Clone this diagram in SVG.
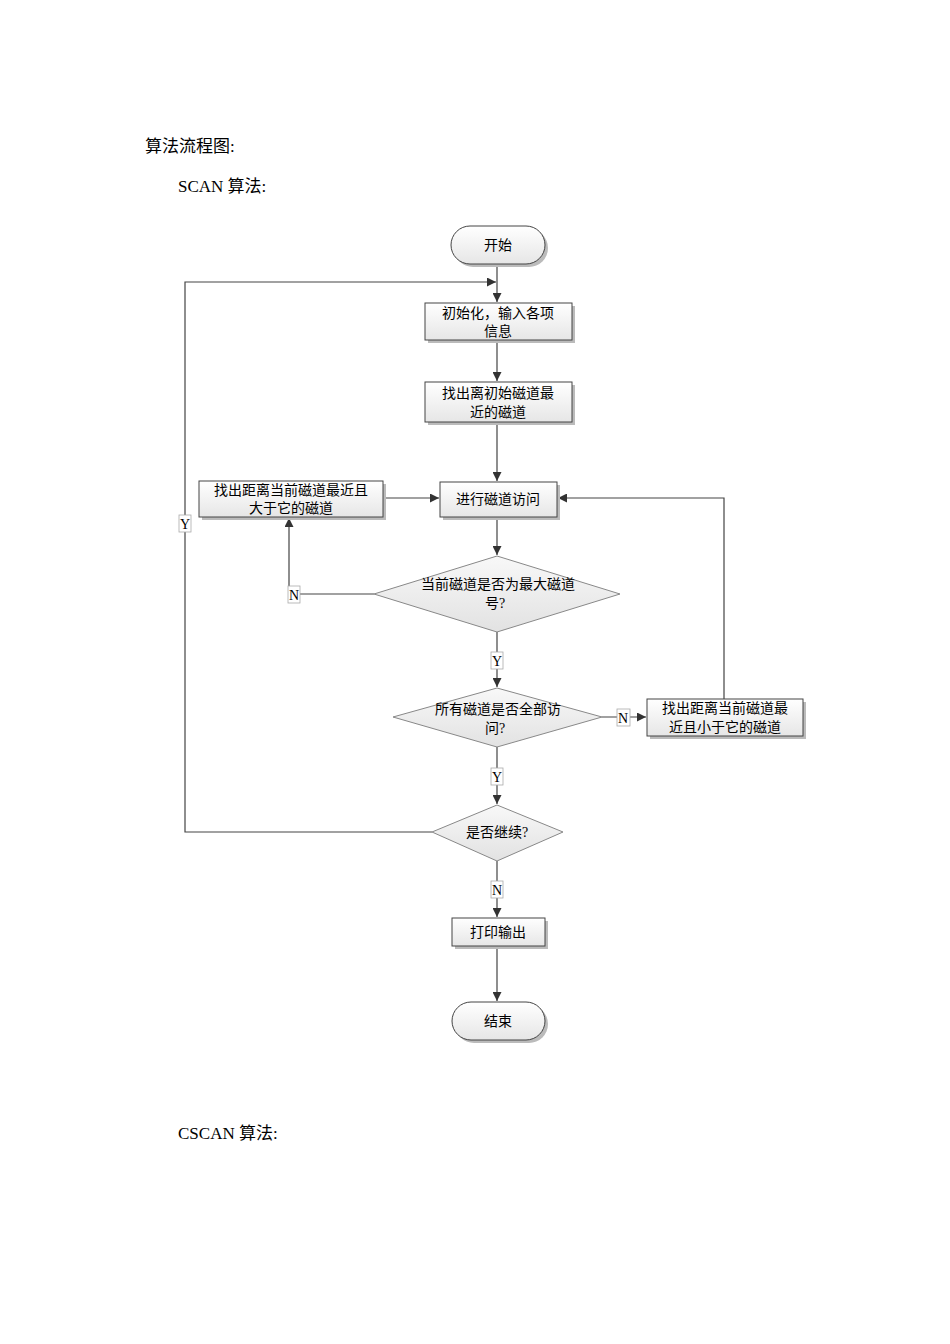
<svg xmlns="http://www.w3.org/2000/svg" width="950" height="1344" viewBox="0 0 950 1344">
<defs>
<linearGradient id="gb" x1="0" y1="0" x2="0" y2="1"><stop offset="0" stop-color="#ffffff"/><stop offset="1" stop-color="#e6e6e6"/></linearGradient>
<linearGradient id="gd" x1="0" y1="0" x2="0" y2="1"><stop offset="0" stop-color="#f8f8f8"/><stop offset="1" stop-color="#e2e2e2"/></linearGradient>
<marker id="ar" viewBox="0 0 10 10" refX="10" refY="5" markerWidth="9" markerHeight="9" markerUnits="userSpaceOnUse" orient="auto"><path d="M0,0 L10,5 L0,10 z" fill="#333"/></marker>
</defs>
<style>
text{font-family:"Liberation Serif","Noto Sans CJK SC",serif;fill:#000}
.h{font-size:17px}
.t{font-size:14px;text-anchor:middle}
.box{fill:url(#gb);stroke:#444;stroke-width:1}
.dia{fill:url(#gd);stroke:#888;stroke-width:1}
.sh{fill:#bbb}
.c{fill:none;stroke:#444;stroke-width:1.2}
.lb{fill:#fff;stroke:#aaa;stroke-width:0.8}
</style>
<rect width="950" height="1344" fill="#fff"/>
<text class="h" x="145" y="152">算法流程图:</text>
<text class="h" x="178" y="192">SCAN 算法:</text>
<text class="h" x="178" y="1139">CSCAN 算法:</text>

<g id="connectors">
<path class="c" d="M497,264 V302" marker-end="url(#ar)"/>
<path class="c" d="M497,340 V381" marker-end="url(#ar)"/>
<path class="c" d="M497,422 V481" marker-end="url(#ar)"/>
<path class="c" d="M497,517 V555" marker-end="url(#ar)"/>
<path class="c" d="M383,498 H439" marker-end="url(#ar)"/>
<path class="c" d="M374,594 H289 V518" marker-end="url(#ar)"/>
<path class="c" d="M497,632 V687" marker-end="url(#ar)"/>
<path class="c" d="M602,717 H646" marker-end="url(#ar)"/>
<path class="c" d="M724,699 V498 H558" marker-end="url(#ar)"/>
<path class="c" d="M497,747 V804" marker-end="url(#ar)"/>
<path class="c" d="M432,832 H185 V282 H496" marker-end="url(#ar)"/>
<path class="c" d="M497,861 V917" marker-end="url(#ar)"/>
<path class="c" d="M497,946 V1001" marker-end="url(#ar)"/>
<rect class="lb" x="179" y="515" width="12" height="17"/><text class="t" x="185" y="529">Y</text>
<rect class="lb" x="288" y="586" width="12" height="17"/><text class="t" x="294" y="600">N</text>
<rect class="lb" x="491" y="652" width="12" height="17"/><text class="t" x="497" y="666">Y</text>
<rect class="lb" x="491" y="768" width="12" height="17"/><text class="t" x="497" y="782">Y</text>
<rect class="lb" x="491" y="881" width="12" height="17"/><text class="t" x="497" y="895">N</text>
<rect class="lb" x="617" y="709" width="13" height="17"/><text class="t" x="623" y="723">N</text>
</g>

<g id="start"><rect class="sh" x="454" y="229" width="94" height="38" rx="19"/><rect class="box" x="451" y="226" width="94" height="38" rx="19" stroke="#999"/><text class="t" x="498" y="250">开始</text></g>
<g id="init"><rect class="sh" x="428" y="306" width="147" height="37"/><rect class="box" x="425" y="303" width="147" height="37"/><text class="t" x="498" y="318">初始化，输入各项</text><text class="t" x="498" y="336">信息</text></g>
<g id="nearest"><rect class="sh" x="428" y="385" width="147" height="40"/><rect class="box" x="425" y="382" width="147" height="40"/><text class="t" x="498" y="398">找出离初始磁道最</text><text class="t" x="498" y="417">近的磁道</text></g>
<g id="visit"><rect class="sh" x="443" y="485" width="117" height="35"/><rect class="box" x="440" y="482" width="117" height="35"/><text class="t" x="498" y="504">进行磁道访问</text></g>
<g id="bigger"><rect class="sh" x="202" y="484" width="184" height="36"/><rect class="box" x="199" y="481" width="184" height="36"/><text class="t" x="291" y="495">找出距离当前磁道最近且</text><text class="t" x="291" y="513">大于它的磁道</text></g>
<g id="d1"><polygon class="dia" points="497,556 620,594 497,632 374,594"/><text class="t" x="498" y="589">当前磁道是否为最大磁道</text><text class="t" x="495" y="608">号?</text></g>
<g id="d2"><polygon class="dia" points="497,688 602,717 497,747 393,717"/><text class="t" x="498" y="714">所有磁道是否全部访</text><text class="t" x="495" y="733">问?</text></g>
<g id="smaller"><rect class="sh" x="650" y="702" width="156" height="37"/><rect class="box" x="647" y="699" width="156" height="37"/><text class="t" x="725" y="713">找出距离当前磁道最</text><text class="t" x="725" y="732">近且小于它的磁道</text></g>
<g id="d3"><polygon class="dia" points="497,805 563,832 497,861 432,832"/><text class="t" x="497" y="837">是否继续?</text></g>
<g id="print"><rect class="sh" x="455" y="921" width="93" height="28"/><rect class="box" x="452" y="918" width="93" height="28"/><text class="t" x="498" y="937">打印输出</text></g>
<g id="end"><rect class="sh" x="455" y="1005" width="93" height="38" rx="19"/><rect class="box" x="452" y="1002" width="93" height="38" rx="19" stroke="#999"/><text class="t" x="498" y="1026">结束</text></g>
</svg>
